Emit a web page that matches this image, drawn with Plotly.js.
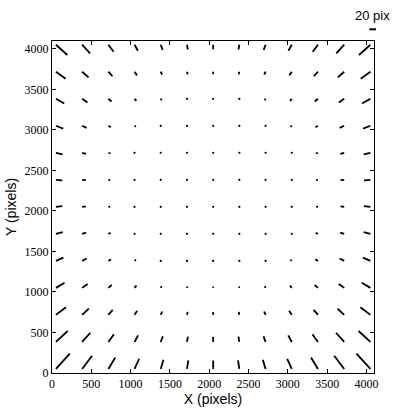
<!DOCTYPE html>
<html><head><meta charset="utf-8">
<script src="https://cdn.plot.ly/plotly-3.0.1.min.js"></script>
<style>body{margin:0;background:#fff;} #chart{width:415px;height:415px;}</style>
</head><body><div id="chart"></div>
<script>
// grid positions (pixels on detector)
const gridX = [50, 383, 717, 1050, 1383, 1717, 2050, 2383, 2717, 3050, 3383, 3717, 4050];
const gridY = [50, 383, 717, 1050, 1383, 1717, 2050, 2383, 2717, 3050, 3383, 3717, 4050];
// distortion vectors in "pix": rows from bottom (y=50) to top (y=4050), columns left to right
const uRows = [
  [41.5, 29.8, 20.7, 13.7, 8.3, 3.9, 0, -3.9, -8.3, -13.7, -20.7, -29.8, -41.5],
  [35.2, 24.5, 16.5, 10.5, 6.2, 2.8, 0, -2.8, -6.2, -10.5, -16.5, -24.5, -35.2],
  [29.8, 20.1, 12.9, 7.9, 4.4, 1.9, 0, -1.9, -4.4, -7.9, -12.9, -20.1, -29.8],
  [25.6, 16.5, 10.1, 5.7, 3.0, 1.2, 0, -1.2, -3.0, -5.7, -10.1, -16.5, -25.6],
  [22.3, 13.8, 7.9, 4.1, 1.9, 0.7, 0, -0.7, -1.9, -4.1, -7.9, -13.8, -22.3],
  [20.1, 12.0, 6.5, 3.0, 1.1, 0.3, 0, -0.3, -1.1, -3.0, -6.5, -12.0, -20.1],
  [19.0, 11.0, 5.7, 2.4, 0.8, 0.1, 0, -0.1, -0.8, -2.4, -5.7, -11.0, -19.0],
  [18.9, 11.0, 5.6, 2.4, 0.7, 0.1, 0, -0.1, -0.7, -2.4, -5.6, -11.0, -18.9],
  [19.8, 11.7, 6.3, 2.9, 1.0, 0.3, 0, -0.3, -1.0, -2.9, -6.3, -11.7, -19.8],
  [21.8, 13.4, 7.6, 3.9, 1.7, 0.6, 0, -0.6, -1.7, -3.9, -7.6, -13.4, -21.8],
  [24.8, 15.9, 9.6, 5.4, 2.7, 1.1, 0, -1.1, -2.7, -5.4, -9.6, -15.9, -24.8],
  [28.9, 19.3, 12.3, 7.4, 4.1, 1.8, 0, -1.8, -4.1, -7.4, -12.3, -19.3, -28.9],
  [34.0, 23.6, 15.7, 10.0, 5.8, 2.6, 0, -2.6, -5.8, -10.0, -15.7, -23.6, -34.0]
];
const vRows = [
  [45.7, 39.4, 34.2, 30.2, 27.3, 25.6, 25.0, 25.6, 27.3, 30.2, 34.2, 39.4, 45.7],
  [32.8, 27.5, 23.1, 19.7, 17.2, 15.8, 15.3, 15.8, 17.2, 19.7, 23.1, 27.5, 32.8],
  [22.9, 18.5, 14.9, 12.1, 10.1, 8.9, 8.5, 8.9, 10.1, 12.1, 14.9, 18.5, 22.9],
  [15.3, 11.9, 9.1, 6.9, 5.3, 4.4, 4.1, 4.4, 5.3, 6.9, 9.1, 11.9, 15.3],
  [9.7, 7.2, 5.2, 3.6, 2.4, 1.8, 1.5, 1.8, 2.4, 3.6, 5.2, 7.2, 9.7],
  [5.4, 3.8, 2.6, 1.6, 0.9, 0.5, 0.4, 0.5, 0.9, 1.6, 2.6, 3.8, 5.4],
  [1.9, 1.3, 0.9, 0.5, 0.2, 0.1, 0.0, 0.1, 0.2, 0.5, 0.9, 1.3, 1.9],
  [-1.3, -0.9, -0.6, -0.3, -0.1, 0.0, 0.0, 0.0, -0.1, -0.3, -0.6, -0.9, -1.3],
  [-4.6, -3.3, -2.2, -1.3, -0.7, -0.4, -0.2, -0.4, -0.7, -1.3, -2.2, -3.3, -4.6],
  [-8.7, -6.4, -4.5, -3.1, -2.0, -1.4, -1.2, -1.4, -2.0, -3.1, -4.5, -6.4, -8.7],
  [-14.1, -10.8, -8.1, -6.1, -4.6, -3.7, -3.4, -3.7, -4.6, -6.1, -8.1, -10.8, -14.1],
  [-21.2, -17.0, -13.5, -10.9, -8.9, -7.8, -7.4, -7.8, -8.9, -10.9, -13.5, -17.0, -21.2],
  [-30.6, -25.5, -21.2, -17.9, -15.6, -14.2, -13.7, -14.2, -15.6, -17.9, -21.2, -25.5, -30.6]
];
const keyValue = 20;
const keyLabel = "20 pix";
const xTickVals = [0, 500, 1000, 1500, 2000, 2500, 3000, 3500, 4000];
const yTickVals = [0, 500, 1000, 1500, 2000, 2500, 3000, 3500, 4000];

// layout geometry
const M = {l: 52, r: 41, t: 41, b: 42};
const W = 415 - M.l - M.r, H = 415 - M.t - M.b;
const xMax = 4096, yMax = 4096;
const pxPerPix = 6.7 / keyValue;          // arrow scale: screen px per distortion pix
const ux = xMax / W, uy = yMax / H;       // data units per screen px

const lx = [], ly = [], dx = [], dy = [];
for (let j = 0; j < gridY.length; j++) {
  for (let i = 0; i < gridX.length; i++) {
    const x0 = gridX[i], y0 = gridY[j];
    const px = uRows[j][i] * pxPerPix, py = vRows[j][i] * pxPerPix;
    const len = Math.hypot(px, py);
    if (len < 1.3) { dx.push(x0); dy.push(y0); continue; }
    lx.push(x0, x0 + px * ux, null);
    ly.push(y0, y0 + py * uy, null);
  }
}

const serif = 'Liberation Serif';
const sans = 'Liberation Sans';
const traces = [
  {type: 'scatter', mode: 'lines', x: lx, y: ly, hoverinfo: 'skip',
   line: {color: 'black', width: 1.8}, showlegend: false},
  {type: 'scatter', mode: 'markers', x: dx, y: dy, hoverinfo: 'skip',
   marker: {symbol: 'circle', color: 'black', size: 2.2, line: {width: 0}}, showlegend: false}
];

const keyLenPaper = keyValue * pxPerPix / W;
const keyCx = (372.7 - M.l) / W;
const layout = {
  width: 415, height: 415,
  margin: M,
  paper_bgcolor: 'white', plot_bgcolor: 'white',
  showlegend: false,
  xaxis: {
    range: [0, xMax], tickvals: xTickVals, ticktext: xTickVals.map(String),
    ticks: 'inside', ticklen: 4, tickwidth: 1, tickcolor: 'black',
    showline: true, linecolor: 'black', linewidth: 1, mirror: 'ticks',
    showgrid: false, zeroline: false,
    tickfont: {family: serif, size: 12, color: 'black'},
    title: {text: 'X (pixels)', standoff: 2, font: {family: sans, size: 14, color: 'black'}}
  },
  yaxis: {
    range: [0, yMax], tickvals: yTickVals, ticktext: yTickVals.map(String),
    ticks: 'inside', ticklen: 4, tickwidth: 1, tickcolor: 'black',
    showline: true, linecolor: 'black', linewidth: 1, mirror: 'ticks',
    showgrid: false, zeroline: false,
    tickfont: {family: serif, size: 12, color: 'black'},
    title: {text: 'Y (pixels)', standoff: 4, font: {family: sans, size: 14, color: 'black'}}
  },
  shapes: [{
    type: 'line', xref: 'paper', yref: 'paper',
    x0: keyCx - keyLenPaper / 2, x1: keyCx + keyLenPaper / 2,
    y0: 1 + (M.t - 29.3) / H, y1: 1 + (M.t - 29.3) / H,
    line: {color: 'black', width: 2}
  }],
  annotations: [{
    xref: 'paper', yref: 'paper', x: keyCx, y: 1 + (M.t - 16) / H,
    text: keyLabel, showarrow: false, xanchor: 'center', yanchor: 'middle',
    font: {family: sans, size: 13, color: 'black'}
  }]
};

Plotly.newPlot('chart', traces, layout, {staticPlot: true, displayModeBar: false});
</script>
</body></html>
